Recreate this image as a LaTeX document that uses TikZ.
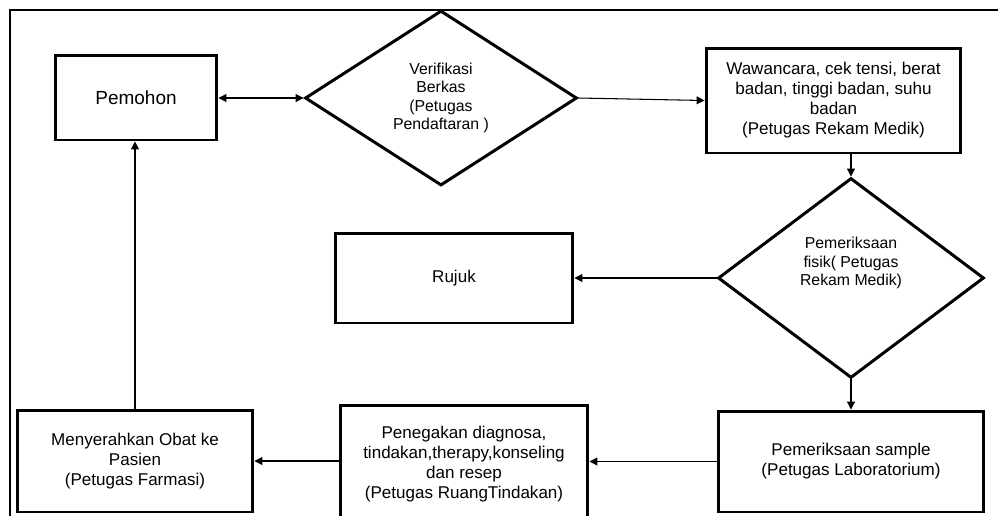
\documentclass[tikz,border=0pt]{standalone}
\usepackage{fontspec}
\setmainfont{Liberation Sans}
\usetikzlibrary{arrows.meta,shapes.geometric}

\begin{document}
\begin{tikzpicture}[x=0.02cm, y=-0.02cm,
    box/.style      = {draw, line width=1.7pt, align=center, font=\fontsize{9.7}{11.4}\selectfont},
    decision/.style = {draw, diamond, line width=1.7pt, align=center, inner sep=0pt, font=\fontsize{9}{10.5}\selectfont},
    dtxt/.style     = {align=center, inner sep=0pt, font=\fontsize{9}{10.5}\selectfont},
    arr/.style      = {line width=0.6pt, -{Triangle[length=4.5pt,width=4.5pt]}},
    arrs/.style     = {line width=0.6pt, {Triangle[length=4.5pt,width=4.5pt]}-{Triangle[length=4.5pt,width=4.5pt]}},
  ]

  \clip (0,0) rectangle (998,515);

  % frame (cut at right and bottom)
  \draw[line width=1.1pt] ( 10, 520) -- ( 10, 10) -- (1000, 10);

  % top row
  \node[box,      minimum width=3.24cm, minimum height=1.70cm, font=\fontsize{10.8}{12.6}\selectfont] (pemohon) at (136.0,  97.5) {Pemohon};
  \node[decision, minimum width=5.44cm, minimum height=3.50cm] (verif)     at (441.0,  98.0) {Verifikasi\\Berkas\\(Petugas\\Pendaftaran )};
  \node[box,      minimum width=5.10cm, minimum height=2.10cm] (wawancara) at (833.5, 100.5) {Wawancara, cek tensi, berat\\badan, tinggi badan, suhu\\badan\\(Petugas Rekam Medik)};

  % middle row
  \node[box,      minimum width=4.76cm, minimum height=1.80cm] (rujuk)     at (454.0, 278.0) {Rujuk};
  \node[decision, minimum width=5.32cm, minimum height=4.00cm] (fisik)     at (851.0, 278.0) {};
  \node[dtxt] (fisiklbl) at ([yshift=0.3cm]fisik.center) {Pemeriksaan\\fisik( Petugas\\Rekam Medik)};

  % bottom row
  \node[box,      minimum width=4.72cm, minimum height=2.04cm] (farmasi)   at (135.0, 461.0) {Menyerahkan Obat ke\\Pasien\\(Petugas Farmasi)};
  \node[box,      minimum width=4.96cm, minimum height=2.36cm] (ruang)     at (464.0, 464.0) {Penegakan diagnosa,\\tindakan,therapy,konseling\\dan resep\\(Petugas RuangTindakan)};
  \node[box,      minimum width=5.32cm, minimum height=2.02cm] (sample)    at (851.0, 461.5) {Pemeriksaan sample\\(Petugas Laboratorium)};

  % connectors
  \draw[arrs] (pemohon.east |- verif) -- (verif.west);
  \draw[arr]  (verif.east)            -- (wawancara.west);
  \draw[arr]  (fisik.north |- wawancara.south) -- (fisik.north);
  \draw[arr]  (fisik.west)            -- (rujuk.east);
  \draw[arr]  (fisik.south)           -- (fisik.south |- sample.north);
  \draw[arr]  (sample.west)           -- (sample.west -| ruang.east);
  \draw[arr]  (ruang.west |- farmasi.east) -- (farmasi.east);
  \draw[arr]  (farmasi.north)         -- (farmasi.north |- pemohon.south);

\end{tikzpicture}
\end{document}
